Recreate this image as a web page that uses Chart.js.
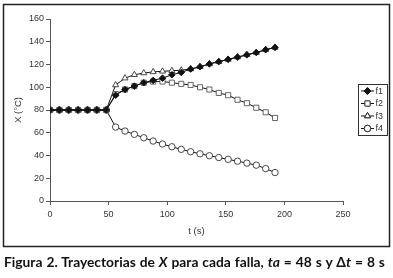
<!DOCTYPE html>
<html>
<head>
<meta charset="utf-8">
<script src="https://cdn.jsdelivr.net/npm/chart.js@4.4.0/dist/chart.umd.min.js"></script>
<style>
  body { margin: 0; background: #fff; }
  #wrap { position: relative; width: 393px; height: 278px; }
  #caption {
    position: absolute; left: 4px; top: 253px; white-space: nowrap; word-spacing: 0.6px;
    font-family: Lato, "Open Sans", sans-serif; font-weight: bold; font-size: 13.8px; color: #111;
  }
  #caption i { font-style: italic; }
</style>
</head>
<body>
<div id="wrap">
  <canvas id="chart" width="393" height="278"></canvas>
  <div id="caption">Figura 2. Trayectorias de <i>X</i> para cada falla, <i>ta</i> = 48 s y Δ<i>t</i> = 8 s</div>
</div>
<script>
// time (s)
const times = [0, 8, 16, 24, 32, 40, 48, 56, 64, 72, 80, 88, 96, 104, 112, 120, 128, 136, 144, 152, 160, 168, 176, 184, 192];
const pre = [80, 80, 80, 80, 80, 80, 80];
const f1 = pre.concat([93, 98, 101, 104, 106, 108, 111, 113, 116, 118, 120.5, 122.5, 124.5, 126.5, 128.5, 130.5, 133, 135]);
const f2 = pre.concat([94, 98, 101, 104, 105, 105, 104, 103, 102, 100, 98, 95, 93, 89, 86, 82, 78, 73]);
const f3 = pre.concat([102, 108, 111, 112.5, 113.5, 114, 114.5, 115, 116, 118, 120.5, 122.5, 124.5, 126.5, 128.5, 130.5, 133, 135]);
const f4 = pre.concat([65, 61.5, 58.6, 55.6, 52.7, 50.1, 47.7, 45.4, 43.3, 41.5, 39.8, 38.2, 36.6, 35, 33.3, 31.5, 28.5, 25]);
const xTicks = [0, 50, 100, 150, 200, 250];
const yTicks = [0, 20, 40, 60, 80, 100, 120, 140, 160];

const pts = arr => arr.map((v, i) => ({ x: times[i], y: v }));

function series(label, arr, style, radius, fill, border, order) {
    return {
        label: label,
        data: pts(arr),
        borderColor: '#111',
        borderWidth: 1,
        pointStyle: style,
        pointRadius: radius,
        pointBackgroundColor: fill,
        pointBorderColor: border,
        pointBorderWidth: 0.9,
        tension: 0,
        order: order
    };
}

const fontTick = { family: 'Liberation Sans', size: 9 };

// frame around the chart + boxed legend at the right
const framePlugin = {
    id: 'frame',
    afterDraw(chart) {
        const ctx = chart.ctx;
        ctx.save();
        ctx.strokeStyle = '#222';
        ctx.lineWidth = 1.5;
        ctx.strokeRect(3.5, 4.5, 386, 242);

        // legend
        const lx = 358, ly = 84, lw = 29, lh = 51;
        ctx.lineWidth = 1;
        ctx.strokeStyle = '#333';
        ctx.fillStyle = '#fff';
        ctx.fillRect(lx + 0.5, ly + 0.5, lw, lh);
        ctx.strokeRect(lx + 0.5, ly + 0.5, lw, lh);
        chart.data.datasets.forEach((ds, i) => {
            const y = ly + 7 + i * 12.5;
            ctx.strokeStyle = ds.borderColor;
            ctx.beginPath();
            ctx.moveTo(lx + 3, y);
            ctx.lineTo(lx + 16, y);
            ctx.stroke();
            Chart.helpers.drawPoint(ctx, {
                pointStyle: ds.pointStyle, radius: ds.pointRadius, borderWidth: 1
            }, lx + 9.5, y);
            ctx.fillStyle = ds.pointBackgroundColor;
            ctx.strokeStyle = ds.pointBorderColor;
            ctx.fill();
            ctx.stroke();
            ctx.fillStyle = '#333';
            ctx.font = '9px "Liberation Sans"';
            ctx.textBaseline = 'middle';
            ctx.fillText(ds.label, lx + 17.5, y + 0.5);
        });
        ctx.restore();
    }
};

new Chart(document.getElementById('chart'), {
    type: 'line',
    data: {
        datasets: [
            series('f1', f1, 'rectRot', 3.3, '#111', '#111', 1),
            series('f2', f2, 'rect', 3.6, '#fff', '#555', 2),
            series('f3', f3, 'triangle', 3.5, '#fff', '#333', 3),
            series('f4', f4, 'circle', 3.2, '#fff', '#333', 4)
        ]
    },
    options: {
        responsive: false,
        animation: false,
        layout: { padding: { left: 0, right: 50, top: 19, bottom: 37 } },
        plugins: { legend: { display: false }, tooltip: { enabled: false } },
        scales: {
            x: {
                type: 'linear',
                min: 0, max: 250,
                afterFit: s => { s.height = 40; },
                afterBuildTicks: s => { s.ticks = xTicks.map(v => ({ value: v })); },
                grid: { drawOnChartArea: false, tickLength: 4, tickColor: '#555' },
                border: { color: '#555', width: 1 },
                ticks: { color: '#333', font: fontTick, padding: 4, maxRotation: 0 },
                title: { display: true, text: 't (s)', color: '#333', font: { family: 'Liberation Sans', size: 9.5 }, padding: { top: 2, bottom: 4 } }
            },
            y: {
                min: 0, max: 160,
                afterFit: s => { s.width = 50; },
                afterBuildTicks: s => { s.ticks = yTicks.map(v => ({ value: v })); },
                grid: { drawOnChartArea: false, tickLength: 4, tickColor: '#555' },
                border: { color: '#555', width: 1 },
                ticks: { color: '#333', font: fontTick, padding: 2 },
                title: { display: true, text: 'X (°C)', color: '#333', font: { family: 'Liberation Sans', size: 9.5 }, padding: { top: 13, bottom: 0 } }
            }
        }
    },
    plugins: [framePlugin]
});
</script>
</body>
</html>
